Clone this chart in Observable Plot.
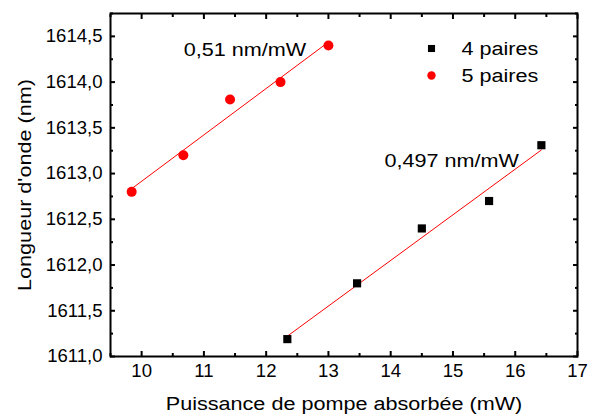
<!DOCTYPE html>
<html>
<head>
<meta charset="utf-8">
<script src="https://cdn.jsdelivr.net/npm/d3@7"></script>
<script src="https://cdn.jsdelivr.net/npm/@observablehq/plot@0.6"></script>
<style>
  html, body { margin: 0; padding: 0; background: white; }
</style>
</head>
<body>
<div id="chart"></div>
<script>
// Data
const series = ["4 paires", "5 paires"];
const power4 = [12.34, 13.46, 14.5, 15.58, 16.42];
const wl4 = [1611.19, 1611.8, 1612.4, 1612.7, 1613.31];
const power5 = [9.84, 10.67, 11.42, 12.23, 13.0];
const wl5 = [1612.8, 1613.2, 1613.81, 1614.0, 1614.4];
const slopeLabels = ["0,51 nm/mW", "0,497 nm/mW"];
const slopeX = [11.66, 14.98];
const slopeY = [1614.35, 1613.14];

const xTicks = [10, 11, 12, 13, 14, 15, 16, 17];
const xMinor = [9.5, 10.5, 11.5, 12.5, 13.5, 14.5, 15.5, 16.5];
const yTicks = [1611, 1611.5, 1612, 1612.5, 1613, 1613.5, 1614, 1614.5];
const yMinor = [1611.25, 1611.75, 1612.25, 1612.75, 1613.25, 1613.75, 1614.25, 1614.75];

const points = [
  ...power4.map((x, i) => ({series: series[0], x, y: wl4[i]})),
  ...power5.map((x, i) => ({series: series[1], x, y: wl5[i]}))
];
const annotations = slopeLabels.map((t, i) => ({t, x: slopeX[i], y: slopeY[i]}));

const fmtY = d => d.toFixed(1).replace(".", ",");
const blank = () => "";

const chart = Plot.plot({
  width: 594,
  height: 414,
  marginLeft: 110,
  marginRight: 17,
  marginTop: 13,
  marginBottom: 58,
  style: {fontFamily: "'Liberation Sans', Arial, sans-serif", fontSize: "18px", color: "black", background: "white"},
  x: {domain: [9.5, 17]},
  y: {domain: [1611, 1614.75]},
  marks: [
    Plot.frame({stroke: "black", strokeWidth: 2}),
    // tick labels + major ticks
    Plot.axisX(xTicks, {tickSize: -5, tickPadding: 13, strokeWidth: 2, fontSize: 18, label: null}),
    Plot.axisY(yTicks, {tickSize: -5, tickPadding: 13, strokeWidth: 2, tickFormat: fmtY, fontSize: 18, label: null}),
    // axis titles
    Plot.axisX(xTicks, {tickSize: 0, tickFormat: blank, fontSize: 18,
      label: "Puissance de pompe absorbée (mW)", labelAnchor: "center", labelOffset: 53, labelArrow: false}),
    Plot.axisY(yTicks, {tickSize: 0, tickFormat: blank, fontSize: 18,
      label: "Longueur d'onde (nm)", labelAnchor: "center", labelOffset: 92, labelArrow: false}),
    // minor ticks and mirrored ticks
    Plot.axisX(xMinor, {tickSize: -3, strokeWidth: 2, tickFormat: blank, label: null}),
    Plot.axisX(xTicks, {anchor: "top", tickSize: -5, strokeWidth: 2, tickFormat: blank, label: null}),
    Plot.axisX(xMinor, {anchor: "top", tickSize: -3, strokeWidth: 2, tickFormat: blank, label: null}),
    Plot.axisY(yMinor, {tickSize: -3, strokeWidth: 2, tickFormat: blank, label: null}),
    Plot.axisY(yTicks, {anchor: "right", tickSize: -5, strokeWidth: 2, tickFormat: blank, label: null}),
    Plot.axisY(yMinor, {anchor: "right", tickSize: -3, strokeWidth: 2, tickFormat: blank, label: null}),
    // fits and data
    Plot.linearRegressionY(points, {x: "x", y: "y", z: "series", stroke: "red", strokeWidth: 1, ci: 0}),
    Plot.dot(points.filter(d => d.series === series[1]), {x: "x", y: "y", r: 5, fill: "red"}),
    Plot.dot(points.filter(d => d.series === series[0]), {x: "x", y: "y", r: 4.6, symbol: "square", fill: "black"}),
    Plot.text(annotations, {x: "x", y: "y", text: "t", fontSize: 18, fill: "black"}),
    // legend
    Plot.dot([series[0]], {frameAnchor: "top-left", dx: 321, dy: 35, r: 4, symbol: "square", fill: "black"}),
    Plot.dot([series[1]], {frameAnchor: "top-left", dx: 321, dy: 62, r: 4.2, fill: "red"}),
    Plot.text([series[0]], {frameAnchor: "top-left", lineAnchor: "middle", dx: 351, dy: 36, text: d => d, textAnchor: "start", fontSize: 18, fill: "black"}),
    Plot.text([series[1]], {frameAnchor: "top-left", lineAnchor: "middle", dx: 351, dy: 63, text: d => d, textAnchor: "start", fontSize: 18, fill: "black"})
  ]
});
document.getElementById("chart").appendChild(chart);

// The reference text is horizontally widened; reproduce that stretch.
chart.querySelectorAll("text").forEach(t => {
  const len = t.getComputedTextLength();
  if (len > 0) {
    const g = t.closest("g[aria-label]");
    const isTick = g && /tick label/.test(g.getAttribute("aria-label"));
    const k = isTick ? 1.03 : 1.2;
    t.setAttribute("textLength", (len * k).toFixed(2));
    t.setAttribute("lengthAdjust", "spacingAndGlyphs");
  }
});
</script>
</body>
</html>
